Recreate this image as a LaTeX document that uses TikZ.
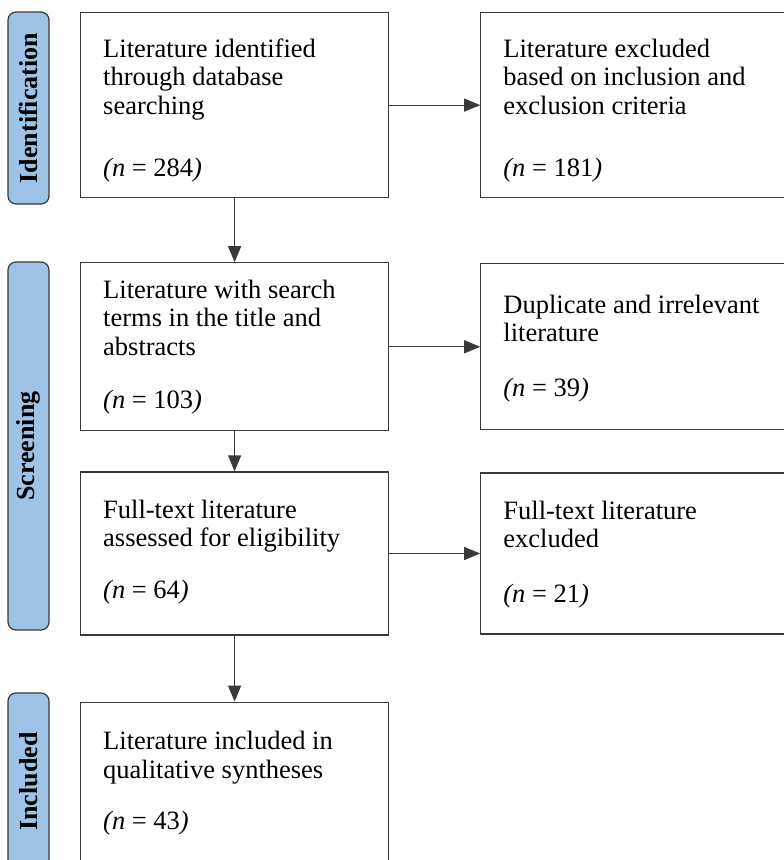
\documentclass[tikz,border=0pt]{standalone}
\usepackage{fontspec}
\setmainfont{Liberation Serif}
\usepackage{tikz}
\usetikzlibrary{positioning,arrows.meta}
\definecolor{phaseblue}{RGB}{157,195,230}
\definecolor{edge}{RGB}{58,58,58}
\newcommand{\cnt}[1]{\textit{(n} = #1\textit{)}}

\begin{document}
\begin{tikzpicture}[x=1pt,y=-1pt,
 font=\fontsize{26.5}{28.5}\selectfont,
 phase/.style={draw=edge,fill=phaseblue,line width=1.2pt,rounded corners=8pt,rotate=90,minimum height=41pt,inner sep=0pt,font=\fontsize{26}{28}\selectfont\bfseries},
 box/.style={draw=edge,line width=1.2pt,minimum width=308pt,inner sep=0pt},
 sidebox/.style={box,minimum width=330pt},
 txt/.style={anchor=north west,align=left,inner sep=0pt},
 arr/.style={-{Triangle[length=16pt,width=13pt]},draw=edge,line width=1.2pt}]
 \clip (0,0) rectangle (784,860);
 % phases
 \node[phase,minimum width=192pt] (pident) at (28.5,108) {Identification};
 \node[phase,minimum width=368pt] (pscreen) at (28.5,446) {Screening};
 \node[phase,minimum width=177pt] (pincl) at (28.5,781.5) {Included};
 % main column
 \node[box,minimum height=185pt,anchor=north west] (ident) at (80,12) {};
 \node[box,minimum height=168pt,below=64pt of ident] (screen) {};
 \node[box,minimum height=163pt,below=40pt of screen] (full) {};
 \node[box,minimum height=200pt,below=66pt of full] (incl) {};
 % excluded column
 \node[sidebox,minimum height=185pt,right=91pt of ident,anchor=west] (exid) {};
 \node[sidebox,minimum height=166pt,right=91pt of screen,anchor=west] (exscr) {};
 \node[sidebox,minimum height=161pt,right=91pt of full,anchor=west] (exfull) {};
 % texts
 \node[txt] (identtxt) at ([shift={(23,26.5)}]ident.north west)
  {Literature identified\\through database\\searching\\[33.5pt]\cnt{284}};
 \node[txt] (screentxt) at ([shift={(23,17.5)}]screen.north west)
  {Literature with search\\terms in the title and\\abstracts\\[24.5pt]\cnt{103}};
 \node[txt] (fulltxt) at ([shift={(23,28.5)}]full.north west)
  {Full-text literature\\assessed for eligibility\\[23pt]\cnt{64}};
 \node[txt] (incltxt) at ([shift={(23,29.5)}]incl.north west)
  {Literature included in\\qualitative syntheses\\[23pt]\cnt{43}};
 \node[txt] (exidtxt) at ([shift={(23,26.5)}]exid.north west)
  {Literature excluded\\based on inclusion and\\exclusion criteria\\[33.5pt]\cnt{181}};
 \node[txt] (exscrtxt) at ([shift={(23,31.5)}]exscr.north west)
  {Duplicate and irrelevant\\literature\\[26pt]\cnt{39}};
 \node[txt] (exfulltxt) at ([shift={(23,28.5)}]exfull.north west)
  {Full-text literature\\excluded\\[26pt]\cnt{21}};
 % arrows
 \draw[arr] (ident) -- (screen);
 \draw[arr] (screen) -- (full);
 \draw[arr] (full) -- (incl);
 \draw[arr] (ident.east) -- (ident.east -| exid.west);
 \draw[arr] (screen.east) -- (screen.east -| exscr.west);
 \draw[arr] (full.east) -- (full.east -| exfull.west);
\end{tikzpicture}
\end{document}
